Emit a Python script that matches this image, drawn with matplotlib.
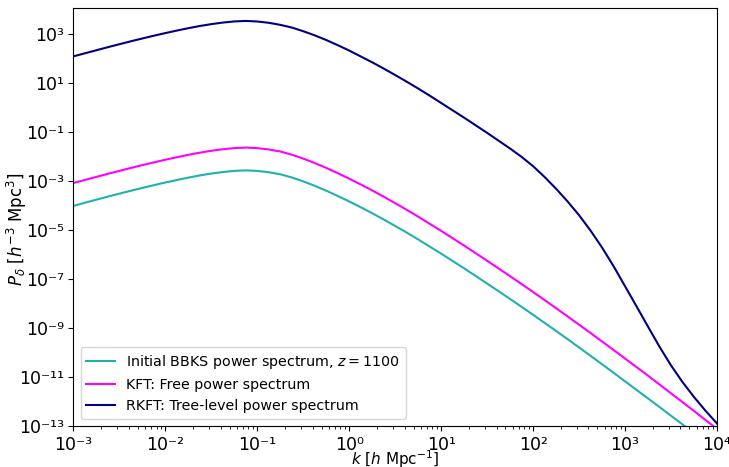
import numpy as np
import matplotlib
matplotlib.use('Agg')
import matplotlib.pyplot as plt
from matplotlib.ticker import FuncFormatter

# log10(k) sample points
log_k = [-3.0, -2.875, -2.75, -2.625, -2.5, -2.375, -2.25, -2.125, -2.0, -1.875,
         -1.75, -1.625, -1.5, -1.375, -1.25, -1.125, -1.0, -0.875, -0.75, -0.625,
         -0.5, -0.375, -0.25, -0.125, 0.0, 0.125, 0.25, 0.375, 0.5, 0.625,
         0.75, 0.875, 1.0, 1.125, 1.25, 1.375, 1.5, 1.625, 1.75, 1.875,
         2.0, 2.125, 2.25, 2.375, 2.5, 2.625, 2.75, 2.875, 3.0, 3.125,
         3.25, 3.375, 3.5, 3.625, 3.75, 3.875, 4.0]

# log10(P) for each curve
log_p_bbks = [-4.02, -3.89, -3.765, -3.64, -3.52, -3.40, -3.285, -3.173, -3.065, -2.963,
              -2.865, -2.776, -2.70, -2.637, -2.59, -2.57, -2.593, -2.646, -2.73, -2.86,
              -3.02, -3.20, -3.40, -3.615, -3.84, -4.075, -4.32, -4.575, -4.84, -5.11,
              -5.39, -5.68, -5.97, -6.27, -6.57, -6.88, -7.19, -7.505, -7.82, -8.14,
              -8.465, -8.795, -9.125, -9.46, -9.80, -10.14, -10.485, -10.83, -11.18, -11.53,
              -11.88, -12.23, -12.585, -12.94, -13.30, -13.66, -14.02]
log_p_free = [-3.085, -2.96, -2.835, -2.71, -2.59, -2.47, -2.355, -2.243, -2.135, -2.033,
              -1.935, -1.846, -1.77, -1.707, -1.66, -1.64, -1.663, -1.716, -1.80, -1.93,
              -2.09, -2.27, -2.47, -2.685, -2.91, -3.145, -3.39, -3.645, -3.91, -4.18,
              -4.46, -4.75, -5.04, -5.34, -5.64, -5.95, -6.26, -6.575, -6.89, -7.21,
              -7.535, -7.865, -8.195, -8.53, -8.87, -9.21, -9.555, -9.90, -10.25, -10.60,
              -10.95, -11.31, -11.67, -12.03, -12.39, -12.76, -13.12]
log_p_tree = [2.085, 2.21, 2.335, 2.46, 2.58, 2.70, 2.815, 2.927, 3.035, 3.137,
              3.235, 3.324, 3.40, 3.463, 3.51, 3.53, 3.507, 3.454, 3.37, 3.26,
              3.11, 2.94, 2.75, 2.54, 2.32, 2.08, 1.84, 1.585, 1.32, 1.05,
              0.77, 0.48, 0.18, -0.12, -0.42, -0.73, -1.04, -1.36, -1.68, -2.02,
              -2.40, -2.84, -3.32, -3.84, -4.40, -5.03, -5.72, -6.48, -7.30, -8.12,
              -8.95, -9.77, -10.53, -11.21, -11.82, -12.38, -12.90]

k = 10.0 ** np.array(log_k)

SUP = str.maketrans('-0123456789', '\u207b\u2070\u00b9\u00b2\u00b3\u2074\u2075\u2076\u2077\u2078\u2079')


def decade_label(v, pos):
    e = int(round(np.log10(v)))
    return '10' + str(e).translate(SUP)


fig = plt.figure(figsize=(7.29, 4.67), dpi=100)
ax = fig.add_axes([0.1008, 0.088, 0.8827, 0.894])

ax.plot(k, 10.0 ** np.array(log_p_bbks), color='lightseagreen',
        label=r'Initial BBKS power spectrum, $z = 1100$')
ax.plot(k, 10.0 ** np.array(log_p_free), color='magenta',
        label='KFT: Free power spectrum')
ax.plot(k, 10.0 ** np.array(log_p_tree), color='navy',
        label='RKFT: Tree-level power spectrum')

ax.set_xscale('log')
ax.set_yscale('log')
ax.set_xlim(1e-3, 1e4)
ax.set_ylim(1e-13, 1.1e4)
ax.xaxis.set_major_formatter(FuncFormatter(decade_label))
ax.yaxis.set_major_formatter(FuncFormatter(decade_label))
ax.set_xlabel(r'$k$ [$h$ Mpc$^{-1}$]', fontsize=11)
ax.set_ylabel(r'$P_\delta$ [$h^{-3}$ Mpc$^3$]', fontsize=12)
ax.xaxis.set_label_coords(0.5, -0.054)
ax.yaxis.set_label_coords(-0.069, 0.47)
ax.tick_params(labelsize=12.5)
ax.legend(loc='lower left', fontsize=10.3)

fig.savefig('out.png', dpi=100)
